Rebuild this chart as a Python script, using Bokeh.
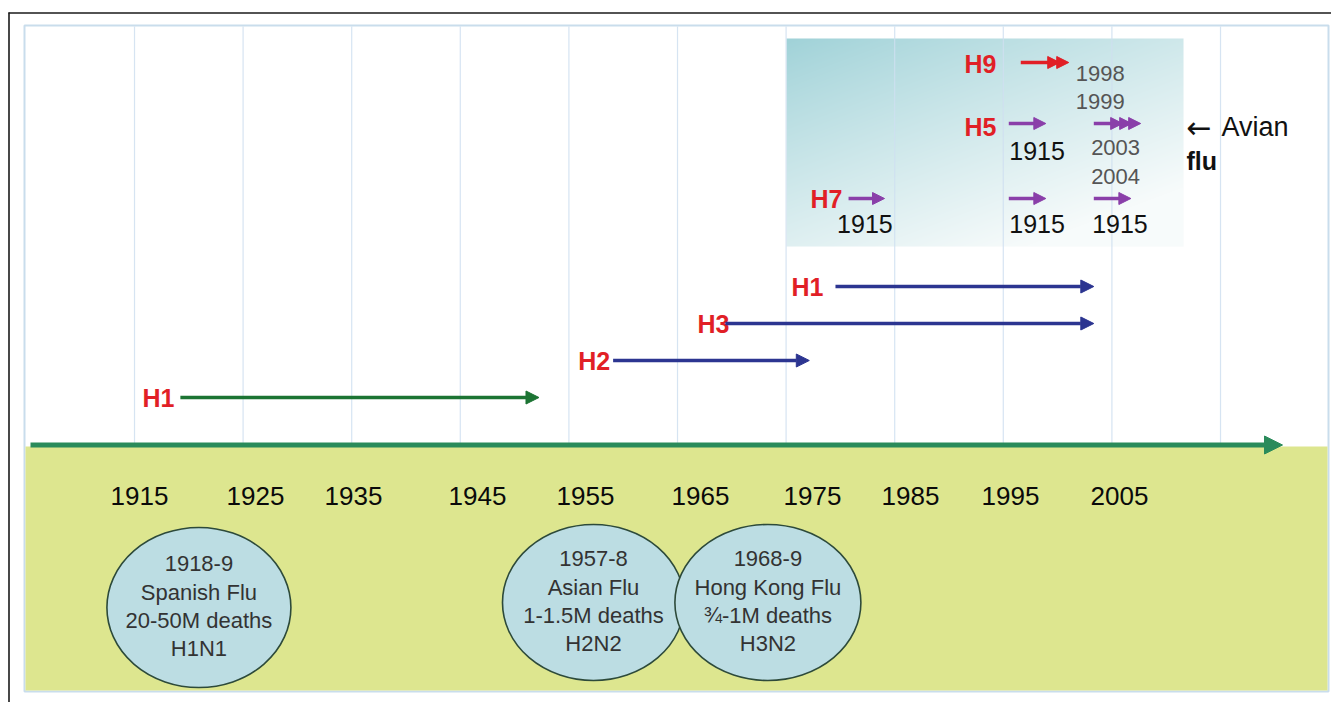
import numpy as np
from bokeh.plotting import figure
from bokeh.models import Range1d, Arrow, NormalHead, ColumnDataSource
from bokeh.core.properties import value
from bokeh.embed import file_html
from bokeh.resources import INLINE

# ---------------- data ----------------
tick_labels = ["1915", "1925", "1935", "1945", "1955", "1965", "1975", "1985", "1995", "2005"]
tick_years = [1915, 1925, 1935, 1945, 1955, 1965, 1975, 1985, 1995, 2005]

# human lineages: subtype label, start year, end year
lineage_labels = ["H1", "H2", "H3", "H1"]
lineage_start = [1918.2, 1957.9, 1968.2, 1978.3]
lineage_end = [1951.1, 1975.9, 2002.0, 2002.0]

# pandemics
pandemic_period = ["1918-9", "1957-8", "1968-9"]
pandemic_name = ["Spanish Flu", "Asian Flu", "Hong Kong Flu"]
pandemic_deaths = ["20-50M deaths", "1-1.5M deaths", "\u00be-1M deaths"]
pandemic_subtype = ["H1N1", "H2N2", "H3N2"]
pandemic_center = [1919.9, 1956.1, 1972.1]

# avian subtypes
avian_labels = ["H9", "H5", "H7"]
# avian arrows: start year, end year, number of heads, row, colour key
avian_start = [1995.3, 1994.2, 2002.0, 1979.5, 1994.2, 2002.0]
avian_end = [1999.7, 1997.6, 2006.3, 1982.8, 1997.6, 2005.4]
avian_heads = [2, 1, 3, 1, 1, 1]
avian_row = [0, 1, 1, 2, 2, 2]
avian_kind = ["red", "purple", "purple", "purple", "purple", "purple"]
# year notes inside the avian box
avian_year_notes = ["1998", "1999", "2003", "2004"]
avian_year_note_x = [2002.6, 2002.6, 2004.0, 2004.0]
avian_1915_x = [1996.8, 1981.0, 1996.8, 2004.4]
avian_1915_row = [1, 2, 2, 2]

# ---------------- layout helpers ----------------
X0, S = 145.0, 10.9          # image px of 1915, px per year
W, H = 1331, 702


def xpx(px):
    return 1915 + (px - X0) / S


def ypx(py):
    return 702 - py


FONT = value("Liberation Sans")
RED = "#e11f26"
NAVY = "#2c3591"
PURPLE = "#8a3fa9"

p = figure(width=W, height=H, output_backend="svg", toolbar_location=None,
           x_range=Range1d(xpx(0), xpx(W)), y_range=Range1d(ypx(H), ypx(0)),
           x_axis_type=None, y_axis_type=None, min_border=0,
           outline_line_color=None, background_fill_color="white",
           border_fill_color="white")
p.grid.visible = False

# outer black frame
p.segment(x0=[xpx(8), xpx(8.5)], y0=[ypx(12.5), ypx(12)], x1=[xpx(1340), xpx(8.5)],
          y1=[ypx(12.5), ypx(710)], line_color="#1a1a1a", line_width=1.6)

# inner panel
p.quad(left=[xpx(24)], right=[xpx(1328)], top=[ypx(25)], bottom=[ypx(691)],
       fill_color="white", line_color="#c9ddec", line_width=2)
# yellow band
p.quad(left=[xpx(25)], right=[xpx(1327)], top=[ypx(446)], bottom=[ypx(690)],
       fill_color="#dde68f", line_color=None)

# avian box gradient
bw, bh = 397, 208
u = np.linspace(0, 1, bw)[None, :]
v = np.linspace(1, 0, bh)[:, None]   # row 0 is bottom
t = np.clip(0.5 * u + 0.7 * v, 0, 1) ** 0.9
c0 = np.array([160, 210, 216])
c1 = np.array([247, 251, 251])
img = np.empty((bh, bw), dtype=np.uint32)
view = img.view(dtype=np.uint8).reshape((bh, bw, 4))
for k in range(3):
    view[:, :, k] = (c0[k] + (c1[k] - c0[k]) * t).astype(np.uint8)
view[:, :, 3] = 255
p.image_rgba(image=[img], x=xpx(786), y=ypx(246), dw=bw / S, dh=bh)

# vertical grid lines (every ~10 years)
grid_x = [xpx(134 + 108.6 * k) for k in range(11)]
p.segment(x0=grid_x, y0=[ypx(26)] * 11, x1=grid_x, y1=[ypx(443)] * 11,
          line_color="#cfdff0", line_width=1.2, line_alpha=0.85)

# main time-line arrow
p.add_layout(Arrow(x_start=xpx(30), y_start=ypx(444.5), x_end=xpx(1282), y_end=ypx(444.5),
                   line_color="#2a8b5b", line_width=5,
                   end=NormalHead(size=18, fill_color="#2a8b5b", line_color="#2a8b5b")))

# tick labels (hand placed nudges in px)
tick_nudge = [-6, 1, -10, 5, 4, 10, 13, 2, -7, -7]
tsrc = ColumnDataSource(dict(x=[ty + n / S for ty, n in zip(tick_years, tick_nudge)],
                             y=[ypx(495)] * len(tick_years), t=tick_labels))
p.text(x="x", y="y", text="t", source=tsrc, text_font=FONT, text_font_size="26px",
       text_color="#0a0a0a", text_align="center", text_baseline="middle")

# pandemic ellipses
ell_w = [184 / S, 182 / S, 186 / S]
ell_h = [160, 156, 156]
ell_y = [ypx(607), ypx(602), ypx(602)]
p.ellipse(x=pandemic_center, y=ell_y, width=ell_w, height=ell_h,
          fill_color="#bcdde3", line_color="#2d4a3a", line_width=1.6)
line_offsets = [-44, -15, 13, 41]
for rows, off in zip([pandemic_period, pandemic_name, pandemic_deaths, pandemic_subtype], line_offsets):
    p.text(x=pandemic_center, y=[yy - off for yy in ell_y], text=rows, text_font=FONT,
           text_font_size="22px", text_color="#333333", text_align="center",
           text_baseline="middle")

# lineage arrows
lin_rows = [ypx(397), ypx(360), ypx(323), ypx(286)]
lin_colors = ["#1c7433", NAVY, NAVY, NAVY]
for xs, xe, yy, col in zip(lineage_start, lineage_end, lin_rows, lin_colors):
    p.add_layout(Arrow(x_start=xs, y_start=yy, x_end=xe, y_end=yy, line_color=col, line_width=3.5,
                       end=NormalHead(size=13, fill_color=col, line_color=col)))
lab_nudge = [-22, -19, -12, -28]
p.text(x=[xs + n / S for xs, n in zip(lineage_start, lab_nudge)], y=lin_rows, text=lineage_labels,
       text_font=FONT, text_font_size="25px", text_font_style="bold", text_color=RED,
       text_align="center", text_baseline="middle")

# avian rows
av_rows = [ypx(62), ypx(123), ypx(198)]
col_map = {"red": RED, "purple": PURPLE}
for xs, xe, nh, r, kind in zip(avian_start, avian_end, avian_heads, avian_row, avian_kind):
    col = col_map[kind]
    yy = av_rows[r]
    p.segment(x0=[xs], y0=[yy], x1=[xe - 4 / S], y1=[yy], line_color=col, line_width=3.5)
    for h in range(nh):
        tip = xe - h * 9 / S
        p.add_layout(Arrow(x_start=tip - 3 / S, y_start=yy, x_end=tip, y_end=yy,
                           line_color=col, line_width=0.1, line_alpha=0,
                           end=NormalHead(size=12, fill_color=col, line_color=col)))

av_lab_x = [xpx(980), xpx(980), xpx(826)]
p.text(x=av_lab_x, y=[ypx(63), ypx(126), ypx(198)], text=avian_labels, text_font=FONT,
       text_font_size="25px", text_font_style="bold", text_color=RED,
       text_align="center", text_baseline="middle")

p.text(x=avian_year_note_x, y=[ypx(73), ypx(101), ypx(147), ypx(176)], text=avian_year_notes,
       text_font=FONT, text_font_size="22px", text_color="#555555",
       text_align="center", text_baseline="middle")

p.text(x=avian_1915_x, y=[ypx(150) if r == 1 else ypx(223) for r in avian_1915_row],
       text=["1915"] * len(avian_1915_x), text_font=FONT, text_font_size="25px",
       text_color="#111111", text_align="center", text_baseline="middle")

p.text(x=[xpx(1186)], y=[ypx(127)], text=["\u2190"], text_font=value("DejaVu Sans"),
       text_font_size="30px", text_color="#111111", text_align="left", text_baseline="middle")
p.text(x=[xpx(1221)], y=[ypx(126)], text=["Avian"], text_font=FONT,
       text_font_size="27px", text_color="#111111", text_align="left", text_baseline="middle")
p.text(x=[xpx(1186)], y=[ypx(160)], text=["flu"], text_font=FONT,
       text_font_size="25px", text_font_style="bold", text_color="#111111",
       text_align="left", text_baseline="middle")

open("out.html", "w").write(file_html(p, INLINE))
